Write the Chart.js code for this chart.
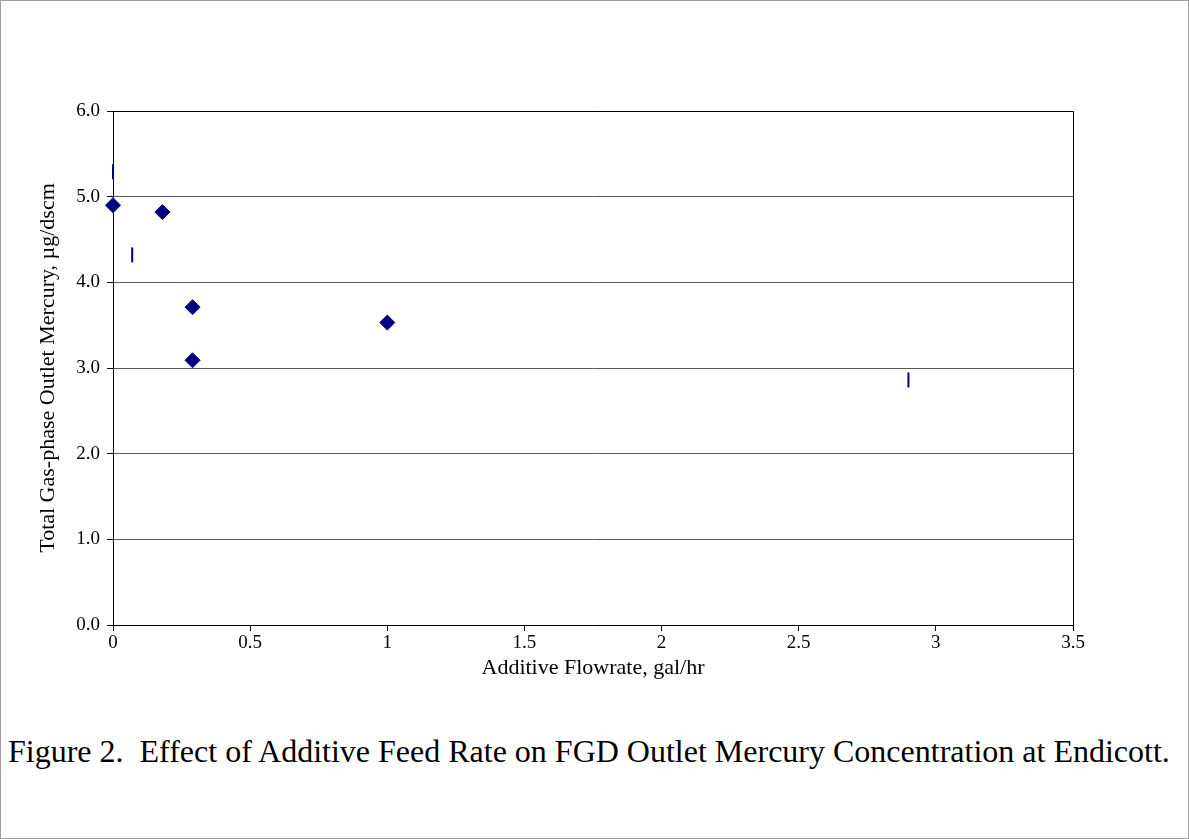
<!DOCTYPE html>
<html>
<head>
<meta charset="utf-8">
<script src="https://cdn.jsdelivr.net/npm/chart.js@4.4.1/dist/chart.umd.min.js"></script>
<style>
    body { margin: 0; background: #fff; }
    #frame {
        position: absolute; left: 0; top: 0;
        width: 1187px; height: 837px;
        border: 1px solid #a0a0a0;
    }
    #chartBox { position: absolute; left: 0; top: 0; width: 1189px; height: 700px; }
    #caption {
        position: absolute; left: 8px; top: 733px;
        font-family: "Liberation Serif", "Times New Roman", serif;
        font-size: 32px; white-space: pre; color: #000;
    }
</style>
</head>
<body>
<div id="frame"></div>
<div id="chartBox"><canvas id="mercuryChart"></canvas></div>
<div id="caption">Figure 2.  Effect of Additive Feed Rate on FGD Outlet Mercury Concentration at Endicott.</div>

<script>
// values
const diamondX = [0, 0.18, 0.29, 0.29, 1.0];
const diamondY = [4.90, 4.82, 3.71, 3.09, 3.53];
const dashX = [0, 0.07, 2.9];
const dashY = [5.29, 4.32, 2.86];

const xTicks = [0, 0.5, 1, 1.5, 2, 2.5, 3, 3.5];
const yTicks = [0, 1, 2, 3, 4, 5, 6];

const serif = "'Liberation Serif', 'Times New Roman', serif";

function toPoints(xs, ys) {
    return xs.map((x, i) => ({ x: x, y: ys[i] }));
}

// draws the top and right edges of the plot box
const plotBorder = {
    id: 'plotBorder',
    afterDraw(chart) {
        const a = chart.chartArea;
        const ctx = chart.ctx;
        ctx.save();
        ctx.strokeStyle = '#000';
        ctx.lineWidth = 1;
        ctx.beginPath();
        ctx.moveTo(a.left, a.top + 0.5);
        ctx.lineTo(a.right + 0.5, a.top + 0.5);
        ctx.lineTo(a.right + 0.5, a.bottom);
        ctx.stroke();
        ctx.restore();
    }
};

const ctx = document.getElementById('mercuryChart').getContext('2d');
const myChart = new Chart(ctx, {
    type: 'scatter',
    data: {
        datasets: [{
            label: 'Series 1',
            data: toPoints(diamondX, diamondY),
            pointStyle: 'rectRot',
            pointRadius: 7.5,
            pointHoverRadius: 7.5,
            backgroundColor: '#000080',
            borderColor: '#000080',
            borderWidth: 1,
            clip: false
        }, {
            label: 'Series 2',
            data: toPoints(dashX, dashY),
            pointStyle: 'line',
            pointRotation: 90,
            pointRadius: 7.5,
            pointHoverRadius: 7.5,
            borderColor: '#000080',
            backgroundColor: '#000080',
            borderWidth: 2,
            clip: false
        }]
    },
    options: {
        responsive: true,
        maintainAspectRatio: false,
        animation: false,
        layout: { padding: { left: 0, top: 111, right: 116, bottom: 0 } },
        plugins: {
            legend: { display: false },
            tooltip: { enabled: false }
        },
        scales: {
            x: {
                type: 'linear',
                min: 0,
                max: 3.5,
                afterBuildTicks: (scale) => { scale.ticks = xTicks.map(v => ({ value: v })); },
                afterFit: (scale) => { scale.height = 75; },
                grid: { drawOnChartArea: false, tickLength: 6, color: '#000' },
                border: { color: '#000', width: 1 },
                ticks: {
                    padding: 1,
                    color: '#000',
                    font: { family: serif, size: 19 },
                    callback: (v) => String(v)
                },
                title: {
                    display: true,
                    text: 'Additive Flowrate, gal/hr',
                    color: '#000',
                    font: { family: serif, size: 22 },
                    padding: { top: 0, bottom: 19 }
                }
            },
            y: {
                min: 0,
                max: 6,
                afterBuildTicks: (scale) => { scale.ticks = yTicks.map(v => ({ value: v })); },
                afterFit: (scale) => { scale.width = 113; },
                grid: { color: '#5a5a5a', tickLength: 6, tickColor: '#000' },
                border: { color: '#000', width: 1 },
                ticks: {
                    padding: 7,
                    color: '#000',
                    font: { family: serif, size: 19 },
                    callback: (v) => v.toFixed(1)
                },
                title: {
                    display: true,
                    text: 'Total Gas-phase Outlet Mercury, µg/dscm',
                    color: '#000',
                    font: { family: serif, size: 22 },
                    padding: { top: 35, bottom: 0 }
                }
            }
        }
    },
    plugins: [plotBorder]
});

console.log('Script loaded!');
</script>
</body>
</html>
